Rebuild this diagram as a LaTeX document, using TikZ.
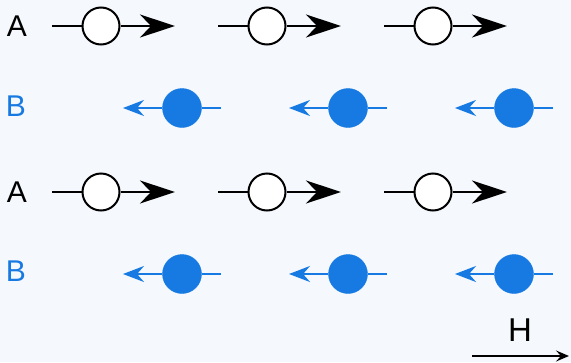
\documentclass[tikz,border=0pt]{standalone}
\usepackage{fontspec}
\setmainfont{Liberation Sans}
\usepackage{xcolor}
\usepackage{tikz}
\usetikzlibrary{arrows.meta}

\definecolor{spinblue}{RGB}{22,122,226}
\definecolor{paper}{RGB}{245,248,252}

\begin{document}
\begin{tikzpicture}[x=1pt, y=-1pt, node distance=166pt]
		% Define the styles
		\tikzstyle{spinA}=[circle, draw=black, fill=white, line width=2pt, minimum size=37pt, inner sep=0pt]
		\tikzstyle{spinB}=[circle, draw=spinblue, fill=spinblue, minimum size=39pt, inner sep=0pt]
		\tikzstyle{rowname}=[inner sep=0pt, font=\fontsize{30}{34}\selectfont]
		\tikzstyle{tailA}=[black, line width=2pt]
		\tikzstyle{tailB}=[spinblue, line width=2pt]

		% Background and frame
		\fill[paper] (0,0) rectangle (571,362);
		\useasboundingbox (0,0) rectangle (571,362);

		% Row names
		\node (nameA1) [rowname] at (17,26) {A};
		\node (nameB1) [rowname, text=spinblue] at (16,106) {B};
		\node (nameA2) [rowname] at (17,192) {A};
		\node (nameB2) [rowname, text=spinblue] at (16,271) {B};

		% Define spins, first row
		\node (a11) [spinA] at (101,26) {};
		\node (a12) [spinA, right of=a11] {};
		\node (a13) [spinA, right of=a12] {};
		% second row
		\node (b11) [spinB] at (182,108) {};
		\node (b12) [spinB, right of=b11] {};
		\node (b13) [spinB, right of=b12] {};
		% third row
		\node (a21) [spinA] at (101,192) {};
		\node (a22) [spinA, right of=a21] {};
		\node (a23) [spinA, right of=a22] {};
		% fourth row
		\node (b21) [spinB] at (182,274) {};
		\node (b22) [spinB, right of=b21] {};
		\node (b23) [spinB, right of=b22] {};

		% Ends of the spin arrows
		\node (a11s) [coordinate, node distance=49pt, left of=a11] {};
		\node (a11e) [coordinate, node distance=74pt, right of=a11] {};
		\node (a12s) [coordinate, node distance=49pt, left of=a12] {};
		\node (a12e) [coordinate, node distance=74pt, right of=a12] {};
		\node (a13s) [coordinate, node distance=49pt, left of=a13] {};
		\node (a13e) [coordinate, node distance=74pt, right of=a13] {};
		\node (a21s) [coordinate, node distance=49pt, left of=a21] {};
		\node (a21e) [coordinate, node distance=74pt, right of=a21] {};
		\node (a22s) [coordinate, node distance=49pt, left of=a22] {};
		\node (a22e) [coordinate, node distance=74pt, right of=a22] {};
		\node (a23s) [coordinate, node distance=49pt, left of=a23] {};
		\node (a23e) [coordinate, node distance=74pt, right of=a23] {};

		\node (b11s) [coordinate, node distance=39pt, right of=b11] {};
		\node (b11e) [coordinate, node distance=59pt, left of=b11] {};
		\node (b12s) [coordinate, node distance=39pt, right of=b12] {};
		\node (b12e) [coordinate, node distance=59pt, left of=b12] {};
		\node (b13s) [coordinate, node distance=39pt, right of=b13] {};
		\node (b13e) [coordinate, node distance=59pt, left of=b13] {};
		\node (b21s) [coordinate, node distance=39pt, right of=b21] {};
		\node (b21e) [coordinate, node distance=59pt, left of=b21] {};
		\node (b22s) [coordinate, node distance=39pt, right of=b22] {};
		\node (b22e) [coordinate, node distance=59pt, left of=b22] {};
		\node (b23s) [coordinate, node distance=39pt, right of=b23] {};
		\node (b23e) [coordinate, node distance=59pt, left of=b23] {};

		% Define edges
		\draw[tailA] (a11s) -- (a11);
		\draw[tailA] (a12s) -- (a12);
		\draw[tailA] (a13s) -- (a13);
		\draw[tailA] (a21s) -- (a21);
		\draw[tailA] (a22s) -- (a22);
		\draw[tailA] (a23s) -- (a23);

		\draw[tailA, arrows = {-Stealth[length=35pt, width=23pt, inset=11pt]}] (a11) -- (a11e);
		\draw[tailA, arrows = {-Stealth[length=35pt, width=23pt, inset=11pt]}] (a12) -- (a12e);
		\draw[tailA, arrows = {-Stealth[length=35pt, width=23pt, inset=11pt]}] (a13) -- (a13e);
		\draw[tailA, arrows = {-Stealth[length=35pt, width=23pt, inset=11pt]}] (a21) -- (a21e);
		\draw[tailA, arrows = {-Stealth[length=35pt, width=23pt, inset=11pt]}] (a22) -- (a22e);
		\draw[tailA, arrows = {-Stealth[length=35pt, width=23pt, inset=11pt]}] (a23) -- (a23e);

		\draw[tailB] (b11s) -- (b11);
		\draw[tailB] (b12s) -- (b12);
		\draw[tailB] (b13s) -- (b13);
		\draw[tailB] (b21s) -- (b21);
		\draw[tailB] (b22s) -- (b22);
		\draw[tailB] (b23s) -- (b23);

		\draw[tailB, arrows = {-Stealth[length=21pt, width=16pt, inset=7pt]}] (b11) -- (b11e);
		\draw[tailB, arrows = {-Stealth[length=21pt, width=16pt, inset=7pt]}] (b12) -- (b12e);
		\draw[tailB, arrows = {-Stealth[length=21pt, width=16pt, inset=7pt]}] (b13) -- (b13e);
		\draw[tailB, arrows = {-Stealth[length=21pt, width=16pt, inset=7pt]}] (b21) -- (b21e);
		\draw[tailB, arrows = {-Stealth[length=21pt, width=16pt, inset=7pt]}] (b22) -- (b22e);
		\draw[tailB, arrows = {-Stealth[length=21pt, width=16pt, inset=7pt]}] (b23) -- (b23e);

		% Field direction
		\node (H) [inner sep=0pt, font=\fontsize{33}{37}\selectfont] at (520,330) {H};
		\coordinate (H0) at (472,356);
		\coordinate (H1) at (569,356);
		\draw[black, line width=1.6pt, arrows = {-Stealth[length=13pt, width=11pt, inset=5pt]}] (H0) -- (H1);
	\end{tikzpicture}
\end{document}
